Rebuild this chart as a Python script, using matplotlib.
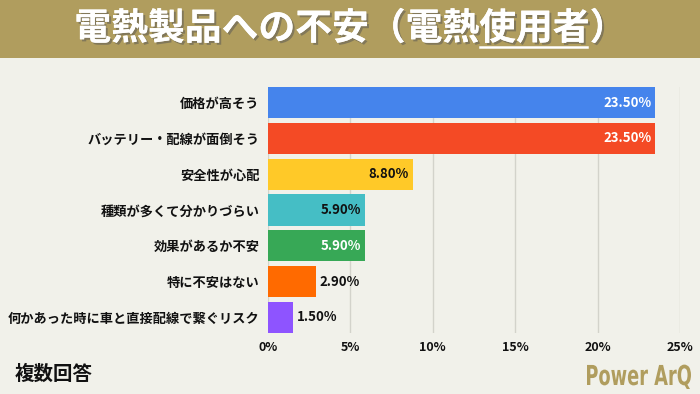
import matplotlib
matplotlib.use("Agg")
import matplotlib.pyplot as plt
import matplotlib.patheffects as pe
from matplotlib.patches import Rectangle, PathPatch
from matplotlib.lines import Line2D
from matplotlib.textpath import TextPath
from matplotlib.font_manager import FontProperties
from matplotlib.transforms import Affine2D, IdentityTransform

plt.rcParams['font.family'] = ['Noto Sans CJK JP', 'DejaVu Sans']

categories = ['価格が高そう', 'バッテリー・配線が面倒そう', '安全性が心配', '種類が多くて分かりづらい',
              '効果があるか不安', '特に不安はない', '何かあった時に車と直接配線で繋ぐリスク']
values = [23.5, 23.5, 8.8, 5.9, 5.9, 2.9, 1.5]
colors = ['#4584EC', '#F44A25', '#FFC928', '#45BEC5', '#37A856', '#FF6A00', '#8E54FF']
label_colors = ['white', 'white', '#111111', '#111111', 'white', '#111111', '#111111']
label_inside = [True, True, True, True, True, False, False]
xticks = [0, 5, 10, 15, 20, 25]

title_head = '電熱製品への不安（電熱'
title_under = '使用者'
title_tail = '）'

bg = '#F1F1EA'
gold = '#B09D5E'
H = 394

fig = plt.figure(figsize=(7, 3.94), dpi=100, facecolor=bg)

# title band
fig.patches.append(Rectangle((0, 1 - 58 / H), 1, 58 / H, transform=fig.transFigure,
                             facecolor=gold, edgecolor='none', zorder=0))
shadow = [pe.withSimplePatchShadow(offset=(1.5, -1.5), shadow_rgbFace='#555555', alpha=0.5), pe.Normal()]
tkw = dict(color='white', fontsize=26.5, fontweight='bold', va='center', path_effects=shadow)
t = fig.text(0.5, 1 - 29 / H, title_head + title_under + title_tail, ha='center', **tkw)
fig.canvas.draw()
r = fig.canvas.get_renderer()
bb = t.get_window_extent(r)
# measure the prefix to place the underline below 使用者
probe = fig.text(0, 0, title_head, **tkw)
w1 = probe.get_window_extent(r).width
probe.set_text(title_head + title_under)
w2 = probe.get_window_extent(r).width
probe.remove()
fig.lines.append(Line2D([(bb.x0 + w1) / 700 + 0.002, (bb.x0 + w2) / 700 - 0.002], [1 - 47 / H] * 2,
                        transform=fig.transFigure, color='white', lw=1.8))

ax = fig.add_axes([268 / 700, 1 - 333 / H, 412 / 700, 246 / H])
ax.set_facecolor(bg)
y = list(range(len(categories)))
ax.barh(y, values, height=0.88, color=colors, zorder=3)
ax.set_xlim(0, 25)
ax.set_ylim(len(categories) - 0.56, -0.44)
ax.set_xticks(xticks)
ax.set_xticklabels([f'{t}%' for t in xticks], fontsize=9, fontweight='bold', color='#111111')
ax.set_yticks(y)
ax.set_yticklabels(categories, fontsize=9.5, fontweight='bold', color='#111111')
ax.tick_params(length=0, pad=6)
ax.grid(axis='x', color='#D3D3CB', lw=1, zorder=0)
for s in ax.spines.values():
    s.set_visible(False)

for i, v in enumerate(values):
    txt = f'{v:.2f}%'
    if label_inside[i]:
        ax.text(v - 0.25, i, txt, ha='right', va='center', fontsize=9.5, fontweight='bold',
                color=label_colors[i], zorder=4)
    else:
        ax.text(v + 0.25, i, txt, ha='left', va='center', fontsize=9.5, fontweight='bold',
                color=label_colors[i], zorder=4)

fig.text(15 / 700, 1 - 374 / H, '複数回答', ha='left', va='center', fontsize=14,
         fontweight='bold', color='#111111')

# condensed logo: squeeze a bold text path horizontally
logo = TextPath((0, 0), 'Power ArQ', size=27.5, prop=FontProperties(family='DejaVu Sans', weight='bold'))
ext = logo.get_extents()
sx = 104 / ext.width
logo = Affine2D().translate(-ext.x0, 0).scale(sx, 1).translate(587, H - 385).transform_path(logo)
fig.patches.append(PathPatch(logo, transform=IdentityTransform(), facecolor=gold, edgecolor='none'))

fig.savefig('out.png', dpi=100, facecolor=bg)
